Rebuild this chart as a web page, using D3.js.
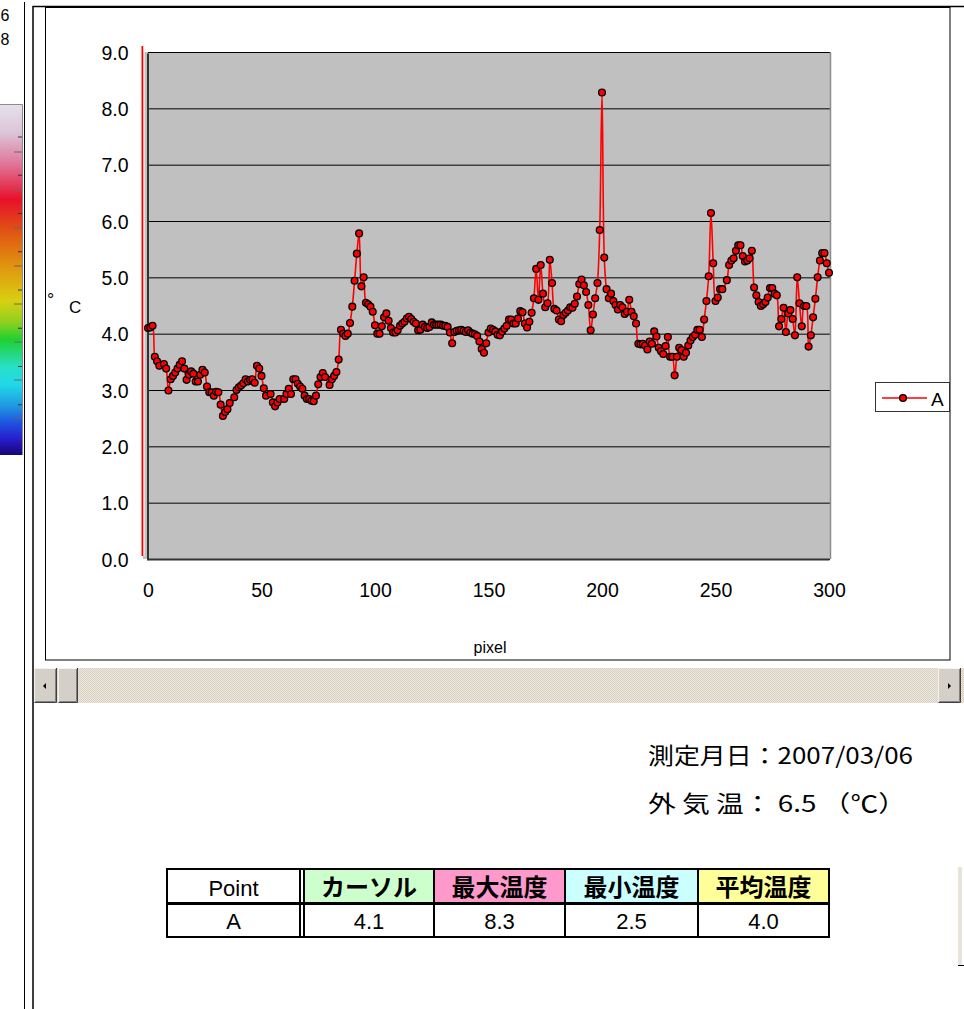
<!DOCTYPE html>
<html>
<head>
<meta charset="utf-8">
<script src="https://cdn.jsdelivr.net/npm/d3@7"></script>
<style>
  body { margin: 0; background: #fff; }
  svg { display: block; }
</style>
</head>
<body>
<svg id="chart" width="964" height="1009"></svg>
<script>
// Line profile along the measurement line: pixel index and temperature (°C)
const pixels = [
  0,1,2,3,4,5,7,8,9,10,11,12,13,14,15,16,17,18,19,20,21,22,23,24,25,26,27,28,29,30,
  31,32,33,34,35,36,38,39,40,41,42,43,44,45,46,47,48,49,50,51,52,54,55,56,57,58,60,61,62,63,
  64,65,66,67,68,69,70,71,72,73,74,75,76,77,78,80,81,82,83,84,85,86,87,88,89,90,91,92,93,94,
  95,96,97,98,99,100,101,102,103,104,105,106,107,108,109,110,111,112,113,114,115,116,117,118,119,120,121,122,123,124,
  125,126,127,128,129,130,131,132,133,134,135,136,137,138,139,140,141,142,143,144,145,146,147,148,149,150,151,152,153,154,
  155,156,157,158,159,160,161,162,163,164,165,166,167,168,169,170,171,172,173,174,175,176,177,178,179,180,181,182,183,184,
  185,186,187,188,189,190,191,192,193,194,195,196,197,198,199,200,201,202,203,204,205,206,207,208,209,210,211,212,213,214,
  215,216,217,218,219,220,221,222,223,224,225,226,227,228,229,230,231,232,233,234,235,236,237,238,239,240,241,242,243,244,
  245,246,247,248,249,250,251,252,253,255,256,257,258,259,260,261,262,263,264,265,266,267,268,269,270,271,272,273,274,275,
  276,277,278,279,280,281,282,283,284,285,286,287,288,289,290,291,292,293,294,295,296,297,298,299,300
];
const temps = [
  4.10,4.11,4.14,3.59,3.51,3.43,3.46,3.38,2.99,3.19,3.25,3.31,3.38,3.45,3.51,3.38,3.18,3.27,3.33,3.29,3.15,3.15,3.27,3.36,3.31,3.06,2.96,2.96,2.90,2.97,
  2.96,2.74,2.54,2.61,2.66,2.77,2.87,3.00,3.05,3.08,3.12,3.19,3.15,3.18,3.19,3.13,3.43,3.38,3.25,3.03,2.90,2.93,2.78,2.71,2.78,2.84,2.84,2.93,3.02,2.93,
  3.19,3.19,3.11,3.06,3.02,2.90,2.84,2.84,2.81,2.80,2.90,3.10,3.23,3.30,3.23,3.09,3.19,3.25,3.32,3.54,4.07,4.00,3.96,4.00,4.19,4.48,4.94,5.42,5.78,4.84,
  5.00,4.55,4.52,4.48,4.39,4.15,4.00,4.00,4.13,4.29,4.36,4.23,4.10,4.02,4.02,4.06,4.14,4.18,4.21,4.27,4.30,4.26,4.21,4.18,4.06,4.07,4.16,4.12,4.10,4.12,
  4.20,4.16,4.16,4.16,4.16,4.14,4.14,4.12,4.02,3.83,4.03,4.05,4.06,4.07,4.05,4.03,4.06,4.02,4.00,3.99,3.96,3.86,3.73,3.66,3.83,4.02,4.09,4.07,4.04,3.98,
  3.97,4.04,4.09,4.14,4.25,4.25,4.18,4.18,4.27,4.40,4.38,4.18,4.11,4.21,4.37,4.63,5.15,4.60,5.22,4.71,4.47,4.54,5.31,4.90,4.44,4.41,4.25,4.22,4.33,4.37,
  4.41,4.47,4.46,4.53,4.66,4.88,4.96,4.86,4.74,4.51,4.06,4.34,4.63,4.90,5.84,8.28,5.35,4.79,4.63,4.71,4.58,4.51,4.43,4.51,4.47,4.35,4.39,4.60,4.39,4.31,
  4.18,3.82,3.81,3.82,3.79,3.72,3.86,3.82,4.04,3.95,3.75,3.69,3.64,3.78,3.94,3.59,3.59,3.26,3.59,3.75,3.71,3.59,3.66,3.79,3.88,3.94,3.98,4.07,4.07,3.94,
  4.25,4.58,5.02,6.14,5.25,4.58,4.64,4.79,4.79,4.95,5.22,5.30,5.34,5.47,5.57,5.57,5.38,5.28,5.30,5.34,5.47,4.82,4.68,4.56,4.49,4.52,4.56,4.64,4.81,4.81,
  4.71,4.68,4.13,4.26,4.46,4.03,4.36,4.42,4.26,3.97,5.00,4.54,4.13,4.49,4.49,3.77,3.97,4.29,4.62,5.00,5.30,5.43,5.43,5.25,5.08
];
const cursorPixel = 0;
const yTicks = [0, 1, 2, 3, 4, 5, 6, 7, 8, 9];
const xTicks = [0, 50, 100, 150, 200, 250, 300];
const seriesName = "A";
const xTitle = "pixel";
const stripLabels = ["6", "8"];
const infoLines = ["測定月日：2007/03/06", "外 気 温： 6.5 （℃）"];
const tableHead = ["Point", "カーソル", "最大温度", "最小温度", "平均温度"];
const tableRow = ["A", "4.1", "8.3", "2.5", "4.0"];
const headFills = ["#ffffff", "#ccffcc", "#ff99cc", "#ccffff", "#ffff99"];

const svg = d3.select("#chart");
const sans = "'Liberation Sans', Arial, sans-serif";
const jp = "'Noto Sans CJK JP', sans-serif";

// ---------- left palette strip ----------
const defs = svg.append("defs");
const grad = defs.append("linearGradient")
  .attr("id", "palette").attr("x1", 0).attr("y1", 0).attr("x2", 0).attr("y2", 1);
[
  [0.00, "#e6e0ec"], [0.08, "#dcc4d8"], [0.17, "#e07496"], [0.27, "#e8102a"],
  [0.37, "#e05a12"], [0.47, "#e09a10"], [0.56, "#d8d010"], [0.62, "#90d020"],
  [0.67, "#20d030"], [0.75, "#28e0c8"], [0.80, "#20d8e8"], [0.86, "#2098e0"],
  [0.91, "#2050e0"], [0.96, "#2818c8"], [1.00, "#140870"]
].forEach(([o, c]) => grad.append("stop").attr("offset", o).attr("stop-color", c));

svg.append("rect").attr("x", 0).attr("y", 105).attr("width", 22).attr("height", 350)
  .attr("fill", "url(#palette)");
svg.append("path").attr("d", "M0,104.5H22.5V455").attr("fill", "none").attr("stroke", "#8a8a8a").attr("stroke-width", 1);
const shortTicks = d3.range(9).map(i => 137 + i * 38.25);
const longTicks = d3.range(8).map(i => 152 + i * 38);
svg.selectAll(".stk").data(shortTicks).join("line")
  .attr("x1", 18).attr("x2", 22).attr("y1", d => d).attr("y2", d => d)
  .attr("stroke", "#333").attr("stroke-width", 1);
svg.selectAll(".ltk").data(longTicks).join("line")
  .attr("x1", 14).attr("x2", 22).attr("y1", d => d).attr("y2", d => d)
  .attr("stroke", "#666").attr("stroke-width", 1);
svg.selectAll(".slab").data(stripLabels).join("text")
  .attr("x", 0.5).attr("y", (d, i) => 21 + i * 24)
  .attr("font-family", sans).attr("font-size", 16).text(d => d);
svg.append("line").attr("x1", 24.5).attr("x2", 24.5).attr("y1", 2).attr("y2", 1009)
  .attr("stroke", "#000").attr("stroke-width", 1);

// ---------- outer frame ----------
svg.append("path").attr("d", "M33,1009V6.5H964").attr("fill", "none")
  .attr("stroke", "#000").attr("stroke-width", 1.5);

// ---------- chart area ----------
svg.append("rect").attr("x", 45.5).attr("y", 7.5).attr("width", 904.5).attr("height", 652.5)
  .attr("fill", "#fff").attr("stroke", "#000").attr("stroke-width", 1);

const x = d3.scaleLinear().domain([0, 300]).range([148, 829]);
const y = d3.scaleLinear().domain([0, 9]).range([559, 52]);

// plot background
svg.append("rect").attr("x", 143).attr("y", y(9)).attr("width", 831 - 143).attr("height", y(0) - y(9))
  .attr("fill", "#c0c0c0");

// horizontal gridlines
svg.selectAll(".grid").data(yTicks).join("line")
  .attr("x1", x(0)).attr("x2", 830).attr("y1", d => y(d) + 0.5).attr("y2", d => y(d) + 0.5)
  .attr("stroke", "#000").attr("stroke-width", 1);

// right border of the plot
svg.append("line").attr("x1", 830.5).attr("x2", 830.5).attr("y1", y(9)).attr("y2", y(0))
  .attr("stroke", "#8c8c8c").attr("stroke-width", 1.5);

// axes
const yAxis = d3.axisLeft(y).tickValues(yTicks).tickSize(0).tickPadding(19)
  .tickFormat(d3.format(".1f"));
const gy = svg.append("g").attr("transform", `translate(${x(0) - 0.5},1)`).call(yAxis);
gy.select(".domain").attr("stroke", "#333").attr("stroke-width", 2);
gy.selectAll("text").attr("font-family", sans).attr("font-size", 19.5).attr("fill", "#000");

const xAxis = d3.axisBottom(x).tickValues(xTicks).tickSize(0).tickPadding(24)
  .tickFormat(d3.format("d"));
const gx = svg.append("g").attr("transform", `translate(0,${y(0)})`).call(xAxis);
gx.select(".domain").attr("stroke", "#333").attr("stroke-width", 2);
gx.selectAll("text").attr("font-family", sans).attr("font-size", 19.5).attr("fill", "#000");

// cursor marker line
svg.append("line").attr("x1", x(cursorPixel) - 5.5).attr("x2", x(cursorPixel) - 5.5)
  .attr("y1", 46).attr("y2", 556).attr("stroke", "#ff0000").attr("stroke-width", 2);
svg.append("line").attr("x1", x(cursorPixel) - 4).attr("x2", x(cursorPixel) - 4)
  .attr("y1", 46).attr("y2", 556).attr("stroke", "#ffffff").attr("stroke-width", 1);

// axis titles
svg.append("text").attr("x", 47).attr("y", 306).attr("font-family", sans).attr("font-size", 18).text("°");
svg.append("text").attr("x", 69).attr("y", 313).attr("font-family", sans).attr("font-size", 17).text("C");
svg.append("text").attr("x", 490).attr("y", 653).attr("text-anchor", "middle")
  .attr("font-family", sans).attr("font-size", 16).text(xTitle);

// series
const pts = pixels.map((p, i) => ({ p, t: temps[i] }));
const line = d3.line().x(d => x(d.p)).y(d => y(d.t)).curve(d3.curveCatmullRom.alpha(0.5));
svg.append("path").datum(pts).attr("d", line)
  .attr("fill", "none").attr("stroke", "#ff0000").attr("stroke-width", 1.6);
svg.append("g").selectAll("circle").data(pts).join("circle")
  .attr("cx", d => x(d.p)).attr("cy", d => y(d.t)).attr("r", 3.4)
  .attr("fill", "#ff0000").attr("stroke", "#000").attr("stroke-width", 1.3);

// legend
const lg = svg.append("g");
lg.append("rect").attr("x", 875.5).attr("y", 382.5).attr("width", 74).attr("height", 29)
  .attr("fill", "#fff").attr("stroke", "#333").attr("stroke-width", 1);
lg.append("line").attr("x1", 882).attr("x2", 927).attr("y1", 398).attr("y2", 398)
  .attr("stroke", "#ff0000").attr("stroke-width", 1.6);
lg.append("circle").attr("cx", 903).attr("cy", 398).attr("r", 3.4)
  .attr("fill", "#ff0000").attr("stroke", "#000").attr("stroke-width", 1.3);
lg.append("text").attr("x", 931).attr("y", 406).attr("font-family", sans).attr("font-size", 19).text(seriesName);

// ---------- scrollbar ----------
const pat = defs.append("pattern").attr("id", "track").attr("width", 2).attr("height", 2)
  .attr("patternUnits", "userSpaceOnUse");
pat.append("rect").attr("width", 2).attr("height", 2).attr("fill", "#ece8dc");
pat.append("rect").attr("width", 1).attr("height", 1).attr("fill", "#d6d1c4");
pat.append("rect").attr("x", 1).attr("y", 1).attr("width", 1).attr("height", 1).attr("fill", "#d6d1c4");

svg.append("rect").attr("x", 34).attr("y", 668).attr("width", 930).attr("height", 35).attr("fill", "url(#track)");

function button(x0, w) {
  const g = svg.append("g");
  g.append("rect").attr("x", x0).attr("y", 668).attr("width", w).attr("height", 35).attr("fill", "#d4d0c8");
  g.append("path").attr("d", `M${x0 + 0.5},702V668.5H${x0 + w - 0.5}`).attr("fill", "none").attr("stroke", "#f4f2ec");
  g.append("path").attr("d", `M${x0 + 0.5},702.5H${x0 + w - 0.5}V668`).attr("fill", "none").attr("stroke", "#404040");
  g.append("path").attr("d", `M${x0 + 1.5},701.5H${x0 + w - 1.5}V669`).attr("fill", "none").attr("stroke", "#808080");
  return g;
}
button(34, 23);
svg.append("path").attr("d", "M43,686L46,683V689Z").attr("fill", "#000");
button(58, 20);
button(938, 23);
svg.append("path").attr("d", "M951,686L948,683V689Z").attr("fill", "#000");

// ---------- info text ----------
svg.append("text").attr("x", 648).attr("y", 764).attr("font-family", jp).attr("font-size", 23)
  .attr("textLength", 265).attr("lengthAdjust", "spacingAndGlyphs").text(infoLines[0]);
svg.append("text").attr("x", 648).attr("y", 812).attr("font-family", jp).attr("font-size", 23)
  .attr("textLength", 258).attr("lengthAdjust", "spacingAndGlyphs").text(infoLines[1]);

// ---------- statistics table ----------
const colEdges = [167, 300, 304, 434, 565, 698, 829];
const cellX = [[167, 300], [304, 434], [434, 565], [565, 698], [698, 829]];
const rowY = [869, 903, 937];
const tg = svg.append("g");
cellX.forEach(([a, b], i) => {
  tg.append("rect").attr("x", a).attr("y", rowY[0]).attr("width", b - a).attr("height", rowY[1] - rowY[0])
    .attr("fill", headFills[i]);
  tg.append("text").attr("x", (a + b) / 2).attr("y", 896).attr("text-anchor", "middle")
    .attr("font-family", i === 0 ? sans : jp).attr("font-size", i === 0 ? 22 : 24)
    .attr("font-weight", i === 0 ? "normal" : "bold").text(tableHead[i]);
  tg.append("text").attr("x", (a + b) / 2).attr("y", 929).attr("text-anchor", "middle")
    .attr("font-family", sans).attr("font-size", 22).text(tableRow[i]);
});
tg.append("rect").attr("x", 167).attr("y", 869).attr("width", 662).attr("height", 68)
  .attr("fill", "none").attr("stroke", "#000").attr("stroke-width", 2);
tg.append("line").attr("x1", 167).attr("x2", 829).attr("y1", 903.5).attr("y2", 903.5)
  .attr("stroke", "#000").attr("stroke-width", 3);
colEdges.slice(1, -1).forEach(cx => {
  tg.append("line").attr("x1", cx).attr("x2", cx).attr("y1", 869).attr("y2", 937)
    .attr("stroke", "#000").attr("stroke-width", 2);
});

// partially visible control at the right edge
svg.append("rect").attr("x", 958).attr("y", 867).attr("width", 4).attr("height", 98)
  .attr("fill", "#e8e2d4").attr("stroke", "#f8f6f0").attr("stroke-width", 0.5);
svg.append("line").attr("x1", 958).attr("x2", 964).attr("y1", 965.5).attr("y2", 965.5)
  .attr("stroke", "#000").attr("stroke-width", 1);
</script>
</body>
</html>
